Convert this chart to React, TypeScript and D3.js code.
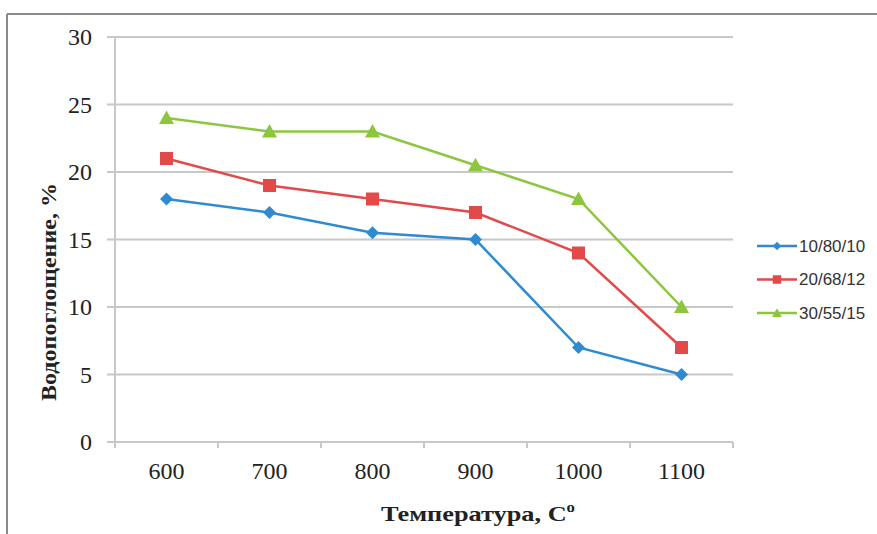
import React from "react";
import * as d3 from "d3";

const categories = ["600", "700", "800", "900", "1000", "1100"];
const series1 = [18, 17, 15.5, 15, 7, 5];
const series2 = [21, 19, 18, 17, 14, 7];
const series3 = [24, 23, 23, 20.5, 18, 10];
const seriesNames = ["10/80/10", "20/68/12", "30/55/15"];
const seriesColors = ["#2E8BD2", "#E24A4A", "#8CC63F"];
const yTicks = [0, 5, 10, 15, 20, 25, 30];

const W = 877;
const H = 534;
const left = 115;
const right = 733;
const top = 37;
const bottom = 442;

export default function App() {
  const x = d3.scaleBand<string>().domain(categories).range([left, right]);
  const y = d3.scaleLinear().domain([0, 30]).range([bottom, top]);
  const line = d3
    .line<number>()
    .x((_, i) => (x(categories[i]) as number) + x.bandwidth() / 2)
    .y((d) => y(d));
  const all = [series1, series2, series3];
  const boundaries = categories.map((c) => x(c) as number).concat([right]);

  const marker = (k: number, cx: number, cy: number, color: string, s = 1) => {
    if (k === 0) {
      const r = 6.5 * s;
      return (
        <path
          d={`M${cx},${cy - r}L${cx + r},${cy}L${cx},${cy + r}L${cx - r},${cy}Z`}
          fill={color}
        />
      );
    }
    if (k === 1) {
      const r = 6.5 * s;
      return <rect x={cx - r} y={cy - r} width={2 * r} height={2 * r} fill={color} />;
    }
    const r = 7.5 * s;
    return (
      <path
        d={`M${cx},${cy - r}L${cx + r},${cy + r * 0.8}L${cx - r},${cy + r * 0.8}Z`}
        fill={color}
      />
    );
  };

  return (
    <svg width={W} height={H} style={{ position: "absolute", left: 0, top: 0 }}>
      <rect x={0} y={0} width={W} height={H} fill="#fff" />
      <line x1={7} y1={14} x2={W} y2={14} stroke="#8a8a8a" strokeWidth={2} />
      <line x1={7} y1={14} x2={7} y2={H} stroke="#8a8a8a" strokeWidth={2} />
      {yTicks.map((t) => (
        <g key={t}>
          <line x1={107} x2={right} y1={y(t)} y2={y(t)} stroke="#c8c8c8" strokeWidth={2} />
          <text
            x={92}
            y={y(t)}
            dy="0.35em"
            textAnchor="end"
            fontFamily="Liberation Serif"
            fontSize={24}
            fill="#222"
          >
            {t}
          </text>
        </g>
      ))}
      <line x1={left} x2={left} y1={top} y2={bottom + 6} stroke="#c8c8c8" strokeWidth={2} />
      {boundaries.map((b, i) => (
        <line key={i} x1={b} x2={b} y1={bottom} y2={bottom + 6} stroke="#c8c8c8" strokeWidth={2} />
      ))}
      {categories.map((c) => (
        <text
          key={c}
          x={(x(c) as number) + x.bandwidth() / 2}
          y={471}
          dy="0.35em"
          textAnchor="middle"
          fontFamily="Liberation Serif"
          fontSize={24}
          fill="#222"
        >
          {c}
        </text>
      ))}
      {all.map((s, k) => (
        <g key={k}>
          <path d={line(s) || ""} fill="none" stroke={seriesColors[k]} strokeWidth={2.5} />
          {s.map((v, i) => (
            <g key={i}>
              {marker(k, (x(categories[i]) as number) + x.bandwidth() / 2, y(v), seriesColors[k])}
            </g>
          ))}
        </g>
      ))}
      {seriesNames.map((n, k) => {
        const ly = 246 + k * 33.5;
        return (
          <g key={n}>
            <line x1={757} x2={797} y1={ly} y2={ly} stroke={seriesColors[k]} strokeWidth={2.5} />
            {marker(k, 777, ly, seriesColors[k], 0.65)}
            <text
              x={799}
              y={ly}
              dy="0.35em"
              fontFamily="Liberation Sans"
              fontSize={17}
              fill="#333"
            >
              {n}
            </text>
          </g>
        );
      })}
      <text
        transform={`translate(56,292) rotate(-90)`}
        textAnchor="middle"
        fontFamily="Liberation Serif"
        fontWeight="bold"
        fontSize={22}
        textLength={218}
        lengthAdjust="spacingAndGlyphs"
        fill="#222"
      >
        Водопоглощение, %
      </text>
      <text
        x={478}
        y={521}
        textAnchor="middle"
        fontFamily="Liberation Serif"
        fontWeight="bold"
        fontSize={22}
        textLength={194}
        lengthAdjust="spacingAndGlyphs"
        fill="#222"
      >
        Температура,  С
        <tspan fontSize={14} dy={-9}>
          о
        </tspan>
      </text>
    </svg>
  );
}
